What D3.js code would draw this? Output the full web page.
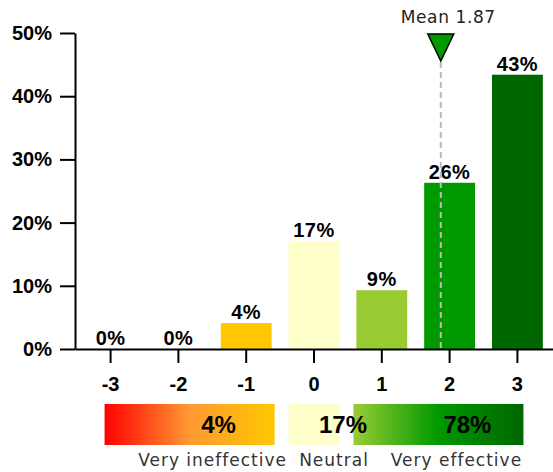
<!DOCTYPE html>
<html><head><meta charset="utf-8">
<script src="https://cdn.jsdelivr.net/npm/d3@7"></script>
<style>
html,body{margin:0;padding:0;background:#fff;}
svg{display:block;}
</style></head>
<body>
<svg id="chart" width="553" height="472"></svg>
<script>
const categories = ["-3","-2","-1","0","1","2","3"];
const values = [0, 0, 4.1, 17.1, 9.3, 26.3, 43.4];
const barColors = ["#FF0000","#FF6600","#FFC800","#FFFFCC","#99CC33","#009900","#006600"];
const yTicks = [0,10,20,30,40,50];
const meanValue = 1.87;
const summaryLabels = ["Very ineffective","Neutral","Very effective"];
const summaryValues = [4, 17, 78];

const svg = d3.select("#chart");
const boldFont = "'Liberation Sans', Arial, sans-serif";
const regFont = "'DejaVu Sans', Verdana, sans-serif";

const y = d3.scaleLinear().domain([0,50]).range([349,33]);
const x = d3.scaleBand().domain(categories).range([75,553]).paddingInner(0.25).paddingOuter(0.15);
const bw = x.bandwidth();
const xv = d3.scaleLinear().domain([-3,3]).range([x("-3")+bw/2, x("3")+bw/2]);

// bars
svg.append("g").selectAll("rect").data(categories).join("rect")
  .attr("x", d=>x(d)).attr("width", bw)
  .attr("y", (d,i)=>y(values[i])).attr("height", (d,i)=>y(0)-y(values[i]))
  .attr("fill", (d,i)=>barColors[i]);

// bar labels
svg.append("g").selectAll("text").data(categories).join("text")
  .attr("x", d=>x(d)+bw/2).attr("y", (d,i)=>y(values[i])-4)
  .attr("text-anchor","middle")
  .style("font-family",boldFont).style("font-weight","bold").style("font-size","20px")
  .style("letter-spacing","0.5px")
  .attr("fill","#000")
  .text((d,i)=>Math.round(values[i])+"%");

// mean line
const mx = xv(meanValue);
svg.append("line").attr("x1",mx).attr("x2",mx).attr("y1",62).attr("y2",y(0))
  .attr("stroke","#bbb").attr("stroke-width",2).attr("stroke-dasharray","6,4");
svg.append("path").attr("d",`M${mx-13},34 L${mx+13},34 L${mx},61 Z`)
  .attr("fill","#009900").attr("stroke","#000").attr("stroke-width",1.5);
svg.append("text").attr("x",mx-40).attr("y",23)
  .style("font-family",regFont).style("font-size","17px").style("letter-spacing","0.6px")
  .attr("fill","#222").text("Mean " + meanValue);

// axes
const yAxis = d3.axisLeft(y).tickValues(yTicks).tickSize(15).tickSizeOuter(0).tickPadding(8).tickFormat(d=>d+"%");
const gy = svg.append("g").attr("transform","translate(75,0)").call(yAxis);
const xAxis = d3.axisBottom(x).tickSize(14).tickSizeOuter(0).tickPadding(14);
const gx = svg.append("g").attr("transform",`translate(0,${y(0)})`).call(xAxis);
[gx,gy].forEach(g=>{
  g.selectAll("path,line").attr("stroke","#000").attr("stroke-width",2);
  g.selectAll("text").style("font-family",boldFont).style("font-weight","bold").style("font-size","20px").attr("fill","#000");
});

// summary bars
const defs = svg.append("defs");
const g1 = defs.append("linearGradient").attr("id","gNeg");
g1.append("stop").attr("offset","0%").attr("stop-color","#FF0000");
g1.append("stop").attr("offset","50%").attr("stop-color","#FF9933");
g1.append("stop").attr("offset","100%").attr("stop-color","#FFC800");
const g2 = defs.append("linearGradient").attr("id","gPos");
g2.append("stop").attr("offset","0%").attr("stop-color","#99CC33");
g2.append("stop").attr("offset","50%").attr("stop-color","#009900");
g2.append("stop").attr("offset","100%").attr("stop-color","#006600");

const nL = x("0"), nR = x("0")+bw, gap = 14, sw = 170;
const sumBoxes = [
  {x0:nL-gap-sw, x1:nL-gap, fill:"url(#gNeg)"},
  {x0:nL, x1:nR, fill:"#FFFFCC"},
  {x0:nR+gap, x1:nR+gap+sw, fill:"url(#gPos)"}
];
const sy0 = 404, sy1 = 445;
svg.append("g").selectAll("rect").data(sumBoxes).join("rect")
  .attr("x",d=>d.x0).attr("width",d=>d.x1-d.x0).attr("y",sy0).attr("height",sy1-sy0)
  .attr("fill",d=>d.fill);
svg.append("g").selectAll("text").data(sumBoxes).join("text")
  .attr("x",d=>(d.x0+d.x1)/2+29).attr("y",433)
  .attr("text-anchor","middle")
  .style("font-family",boldFont).style("font-weight","bold").style("font-size","24px")
  .attr("fill","#000")
  .text((d,i)=>summaryValues[i]+"%");
svg.append("g").selectAll("text").data(sumBoxes).join("text")
  .attr("x",(d,i)=>(d.x0+d.x1)/2+[23,20,18][i]).attr("y",466)
  .attr("text-anchor","middle")
  .style("font-family",regFont).style("font-size","17px").style("letter-spacing","1px")
  .attr("fill","#333")
  .text((d,i)=>summaryLabels[i]);
</script>
</body></html>
